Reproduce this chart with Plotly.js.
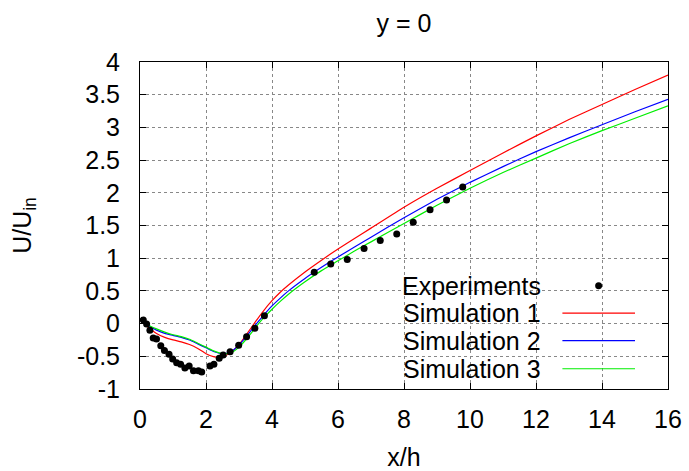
<!DOCTYPE html>
<html>
<head>
<meta charset="utf-8">
<script src="https://cdn.plot.ly/plotly-3.0.1.min.js"></script>
<style>html,body{margin:0;padding:0;background:#fff;}#chart{width:689px;height:471px;}</style>
</head>
<body>
<div id="chart"></div>
<script>
const expX = [0.10,0.20,0.30,0.40,0.50,0.63,0.74,0.88,0.99,1.11,1.23,1.36,1.49,1.62,1.77,1.87,2.12,2.24,2.40,2.52,2.73,2.99,3.23,3.48,3.77,5.28,5.78,6.28,6.79,7.28,7.78,8.28,8.79,9.29,9.78];
const expY = [0.055,-0.006,-0.10,-0.22,-0.235,-0.34,-0.41,-0.47,-0.54,-0.60,-0.62,-0.68,-0.65,-0.72,-0.72,-0.74,-0.65,-0.62,-0.53,-0.48,-0.43,-0.33,-0.20,-0.07,0.12,0.785,0.91,0.98,1.15,1.27,1.37,1.55,1.74,1.89,2.09];

const simX = [0,0.25,0.5,0.75,1,1.25,1.5,1.75,2,2.25,2.5,2.75,3,3.25,3.5,3.75,4,4.25,4.5,5,5.5,6,6.5,7,8,9,10,11,12,13,14,15,16];
const sim1 = [0.07,-0.06,-0.15,-0.21,-0.25,-0.28,-0.32,-0.38,-0.46,-0.51,-0.51,-0.44,-0.32,-0.15,0.03,0.20,0.35,0.48,0.59,0.79,0.97,1.14,1.30,1.46,1.78,2.07,2.34,2.61,2.87,3.12,3.35,3.58,3.80];
const sim2 = [0.07,-0.03,-0.10,-0.15,-0.18,-0.21,-0.25,-0.31,-0.37,-0.43,-0.46,-0.43,-0.33,-0.18,-0.02,0.13,0.27,0.39,0.50,0.69,0.86,1.02,1.17,1.32,1.62,1.90,2.16,2.40,2.63,2.84,3.04,3.24,3.43];
const sim3 = [0.07,-0.02,-0.08,-0.13,-0.17,-0.20,-0.24,-0.30,-0.36,-0.42,-0.46,-0.45,-0.36,-0.22,-0.06,0.09,0.22,0.34,0.45,0.64,0.81,0.96,1.11,1.25,1.53,1.81,2.07,2.31,2.53,2.75,2.95,3.14,3.33];

const seriesNames = ["Experiments","Simulation 1","Simulation 2","Simulation 3"];
const seriesColors = ["#000000","#ff0000","#0000ff","#00ee00"];
const xTicks = [0,2,4,6,8,10,12,14,16];
const yTicks = [-1,-0.5,0,0.5,1,1.5,2,2.5,3,3.5,4];

const FONT = "Liberation Sans, Arial, Helvetica, sans-serif";
const FS = 25;

const traces = [
  {x: simX, y: sim1, mode: "lines", name: seriesNames[1], line: {color: seriesColors[1], width: 1.2, shape: "spline", smoothing: 0.5}, showlegend: false},
  {x: simX, y: sim2, mode: "lines", name: seriesNames[2], line: {color: seriesColors[2], width: 1.2, shape: "spline", smoothing: 0.5}, showlegend: false},
  {x: simX, y: sim3, mode: "lines", name: seriesNames[3], line: {color: seriesColors[3], width: 1.2, shape: "spline", smoothing: 0.5}, showlegend: false},
  {x: expX, y: expY, mode: "markers", name: seriesNames[0], marker: {color: seriesColors[0], size: 7}, showlegend: false}
];

// custom legend (gnuplot style: text, then sample on the right)
const legY = [0.316, 0.232, 0.148, 0.062];
const annotations = seriesNames.map((n, i) => ({
  xref: "paper", yref: "paper", x: 0.764, y: legY[i], xanchor: "right", yanchor: "middle",
  text: n, showarrow: false, font: {family: FONT, size: FS, color: "#000"}
}));
const shapes = [
  {type: "rect", xref: "paper", yref: "paper", x0: 0.385, x1: 0.966, y0: 0.006, y1: 0.364,
   fillcolor: "#ffffff", line: {width: 0}, layer: "between"},
  {type: "circle", xref: "paper", yref: "paper", x0: 0.8686 - 0.0066, x1: 0.8686 + 0.0066,
   y0: legY[0] - 0.0107, y1: legY[0] + 0.0107, fillcolor: seriesColors[0], line: {width: 0}, layer: "above"}
];
for (let i = 1; i < 4; i++) {
  shapes.push({type: "line", xref: "paper", yref: "paper", x0: 0.800, x1: 0.9375, y0: legY[i], y1: legY[i],
    line: {color: seriesColors[i], width: 1.2}, layer: "above"});
}

const layout = {
  width: 689, height: 471,
  margin: {l: 140, r: 21, t: 62, b: 82},
  paper_bgcolor: "#fff", plot_bgcolor: "#fff",
  font: {family: FONT, size: FS, color: "#000"},
  title: {text: "y = 0", x: 0.5, xref: "paper", y: 0.951, yref: "container", yanchor: "middle",
          font: {family: FONT, size: FS, color: "#000"}},
  xaxis: {
    range: [0, 16], tickvals: xTicks, ticktext: xTicks.map(String),
    ticks: "inside", ticklen: 6, tickcolor: "#000", mirror: "ticks",
    showline: true, linecolor: "#000", linewidth: 1,
    showgrid: true, gridcolor: "#888", griddash: "dot", gridwidth: 1,
    zeroline: false, ticklabelstandoff: 8,
    tickfont: {family: FONT, size: FS},
    title: {text: "x/h", standoff: 20, font: {family: FONT, size: FS}}
  },
  yaxis: {
    range: [-1, 4], tickvals: yTicks, ticktext: yTicks.map(String),
    ticks: "inside", ticklen: 6, tickcolor: "#000", mirror: "ticks",
    showline: true, linecolor: "#000", linewidth: 1,
    showgrid: true, gridcolor: "#888", griddash: "dot", gridwidth: 1,
    zeroline: false, ticklabelstandoff: 14,
    tickfont: {family: FONT, size: FS},
    title: {text: "U/U<sub>in</sub>", standoff: 38, font: {family: FONT, size: FS}}
  },
  annotations: annotations,
  shapes: shapes
};

Plotly.newPlot("chart", traces, layout, {displayModeBar: false, staticPlot: true});
</script>
</body>
</html>
